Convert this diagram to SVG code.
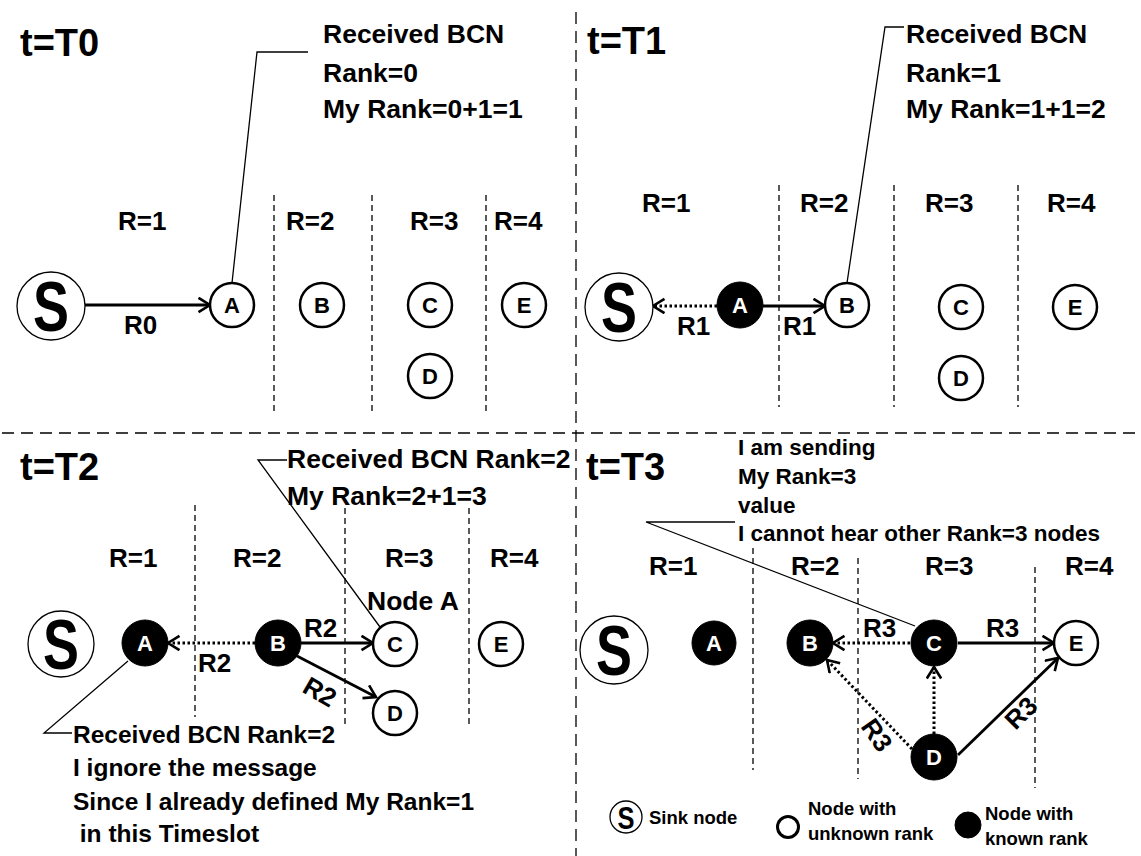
<svg xmlns="http://www.w3.org/2000/svg" width="1141" height="856" viewBox="0 0 1141 856">
<style>
.t{font-family:"Liberation Sans",Arial,sans-serif;font-weight:bold;fill:#000}
.title{font-size:38px}
.call{font-size:26.5px}
.call2{font-size:24.5px}
.call3{font-size:22.5px}
.r{font-size:26px}
.lg{font-size:18.5px}
.nl{font-size:22px;text-anchor:middle}
.wl{fill:#fff}
.bigS{font-size:70px;text-anchor:middle}
.node{fill:#fff;stroke:#000;stroke-width:2.5}
.known{fill:#000;stroke:#000;stroke-width:1}
.sink{fill:#fff;stroke:#000;stroke-width:1.3}
.zone{stroke:#000;stroke-width:1.3;stroke-dasharray:6 4;fill:none}
.sep{stroke:#000;stroke-width:1.3;stroke-dasharray:12 7;fill:none}
.arrow{stroke:#000;stroke-width:2.8;fill:none;marker-end:url(#ah)}
.dot{stroke:#000;stroke-width:3;stroke-dasharray:2.5 2.5;fill:none;marker-end:url(#ah)}
.callout{stroke:#000;stroke-width:1.3;fill:none}
</style>
<defs>
<marker id="ah" markerUnits="userSpaceOnUse" markerWidth="18" markerHeight="18" refX="13" refY="8" orient="auto">
<path d="M1.5,0.8 L13,8 L1.5,15.2" fill="none" stroke="#000" stroke-width="2.6"/>
</marker>
</defs>

<g id="separators">
<line class="sep" x1="576" y1="12" x2="576" y2="856"/>
<line class="sep" x1="2" y1="433" x2="1141" y2="433"/>
</g>

<g id="zones">
<line class="zone" x1="274" y1="195" x2="274" y2="415"/>
<line class="zone" x1="372" y1="195" x2="372" y2="415"/>
<line class="zone" x1="486" y1="195" x2="486" y2="415"/>
<line class="zone" x1="779" y1="185" x2="779" y2="407"/>
<line class="zone" x1="894" y1="185" x2="894" y2="407"/>
<line class="zone" x1="1018" y1="185" x2="1018" y2="407"/>
<line class="zone" x1="195" y1="505" x2="195" y2="717"/>
<line class="zone" x1="345" y1="508" x2="345" y2="725"/>
<line class="zone" x1="469" y1="508" x2="469" y2="725"/>
<line class="zone" x1="753" y1="548" x2="753" y2="770"/>
<line class="zone" x1="858" y1="558" x2="858" y2="779"/>
<line class="zone" x1="1035" y1="567" x2="1035" y2="788"/>
</g>

<g id="labels">
<text class="t title" x="20" y="56">t=T0</text>
<text class="t title" x="587" y="54">t=T1</text>
<text class="t title" x="20" y="480">t=T2</text>
<text class="t title" x="586" y="480">t=T3</text>

<text class="t r" x="118" y="230">R=1</text>
<text class="t r" x="286" y="230">R=2</text>
<text class="t r" x="410" y="230">R=3</text>
<text class="t r" x="494" y="230">R=4</text>

<text class="t r" x="642" y="212">R=1</text>
<text class="t r" x="800" y="212">R=2</text>
<text class="t r" x="925" y="212">R=3</text>
<text class="t r" x="1047" y="212">R=4</text>

<text class="t r" x="109" y="567">R=1</text>
<text class="t r" x="233" y="567">R=2</text>
<text class="t r" x="385" y="567">R=3</text>
<text class="t r" x="490" y="567">R=4</text>

<text class="t r" x="649" y="575">R=1</text>
<text class="t r" x="791" y="575">R=2</text>
<text class="t r" x="925" y="575">R=3</text>
<text class="t r" x="1065" y="575">R=4</text>

<text class="t call" x="323" y="43">Received BCN</text>
<text class="t call" x="323" y="82">Rank=0</text>
<text class="t call" x="323" y="118">My Rank=0+1=1</text>

<text class="t call" x="906" y="43">Received BCN</text>
<text class="t call" x="906" y="82">Rank=1</text>
<text class="t call" x="906" y="118">My Rank=1+1=2</text>

<text class="t call" x="287" y="468">Received BCN Rank=2</text>
<text class="t call" x="287" y="505">My Rank=2+1=3</text>
<text class="t call" x="367" y="610">Node A</text>

<text class="t call2" x="73" y="743">Received BCN Rank=2</text>
<text class="t call2" x="73" y="776">I ignore the message</text>
<text class="t call2" x="73" y="810">Since I already defined My Rank=1</text>
<text class="t call2" x="73" y="842" xml:space="preserve"> in this Timeslot</text>

<text class="t call3" x="738" y="455">I am sending</text>
<text class="t call3" x="738" y="484">My Rank=3</text>
<text class="t call3" x="738" y="513">value</text>
<text class="t call3" x="738" y="541">I cannot hear other Rank=3 nodes</text>

<text class="t r" x="124" y="334">R0</text>
<text class="t r" x="677" y="335">R1</text>
<text class="t r" x="783" y="335">R1</text>
<text class="t r" x="198" y="672">R2</text>
<text class="t r" x="304" y="637">R2</text>
<text class="t r" text-anchor="middle" transform="translate(320,692) rotate(30)" x="0" y="9">R2</text>
<text class="t r" x="863" y="637">R3</text>
<text class="t r" x="986" y="637">R3</text>
<text class="t r" text-anchor="middle" transform="translate(877,735) rotate(55)" x="0" y="9">R3</text>
<text class="t r" text-anchor="middle" transform="translate(1021,713) rotate(-45)" x="0" y="9">R3</text>
</g>

<g id="connectors">
<path class="callout" d="M308,52 H257 L232,283"/>
<path class="callout" d="M904,27 H885 L847,283"/>
<path class="callout" d="M287,460 H258 L380,627"/>
<path class="callout" d="M128,661 L44,733 H72"/>
<path class="callout" d="M735,522 H646 L915,626"/>

<line class="arrow" x1="85" y1="305" x2="210" y2="305"/>
<line class="dot" x1="717" y1="306" x2="653" y2="306"/>
<line class="arrow" x1="763" y1="306" x2="825" y2="306"/>
<line class="dot" x1="255" y1="643" x2="168" y2="643"/>
<line class="arrow" x1="301" y1="643" x2="373" y2="643"/>
<line class="arrow" x1="297" y1="656" x2="376" y2="697"/>
<line class="dot" x1="910" y1="643" x2="833" y2="643"/>
<line class="arrow" x1="958" y1="643" x2="1054" y2="643"/>
<line class="dot" x1="934" y1="734" x2="934" y2="667"/>
<line class="dot" x1="912" y1="749" x2="827" y2="660"/>
<line class="arrow" x1="958" y1="755" x2="1058" y2="658"/>
</g>

<g id="t0-S"><circle class="sink" cx="51" cy="306" r="34"/><text class="t bigS" x="51" y="331" textLength="36" lengthAdjust="spacingAndGlyphs">S</text></g>
<g id="t0-A"><circle class="node" cx="232" cy="305" r="22"/><text class="t nl" x="232" y="313">A</text></g>
<g id="t0-B"><circle class="node" cx="322" cy="305" r="22"/><text class="t nl" x="322" y="313">B</text></g>
<g id="t0-C"><circle class="node" cx="430" cy="305" r="22"/><text class="t nl" x="430" y="313">C</text></g>
<g id="t0-D"><circle class="node" cx="430" cy="376" r="22"/><text class="t nl" x="430" y="384">D</text></g>
<g id="t0-E"><circle class="node" cx="524" cy="305" r="22"/><text class="t nl" x="524" y="313">E</text></g>

<g id="t1-S"><circle class="sink" cx="619" cy="307" r="34"/><text class="t bigS" x="619" y="332" textLength="36" lengthAdjust="spacingAndGlyphs">S</text></g>
<g id="t1-A"><circle class="known" cx="740" cy="305" r="23"/><text class="t nl wl" x="740" y="313">A</text></g>
<g id="t1-B"><circle class="node" cx="847" cy="305" r="22"/><text class="t nl" x="847" y="313">B</text></g>
<g id="t1-C"><circle class="node" cx="961" cy="307" r="22"/><text class="t nl" x="961" y="315">C</text></g>
<g id="t1-D"><circle class="node" cx="961" cy="378" r="22"/><text class="t nl" x="961" y="386">D</text></g>
<g id="t1-E"><circle class="node" cx="1075" cy="307" r="22"/><text class="t nl" x="1075" y="315">E</text></g>

<g id="t2-S"><circle class="sink" cx="61" cy="644" r="33"/><text class="t bigS" x="61" y="669" textLength="36" lengthAdjust="spacingAndGlyphs">S</text></g>
<g id="t2-A"><circle class="known" cx="145" cy="643" r="23"/><text class="t nl wl" x="145" y="651">A</text></g>
<g id="t2-B"><circle class="known" cx="278" cy="643" r="23"/><text class="t nl wl" x="278" y="651">B</text></g>
<g id="t2-C"><circle class="node" cx="395" cy="644" r="22"/><text class="t nl" x="395" y="652">C</text></g>
<g id="t2-D"><circle class="node" cx="395" cy="713" r="22"/><text class="t nl" x="395" y="721">D</text></g>
<g id="t2-E"><circle class="node" cx="501" cy="644" r="22"/><text class="t nl" x="501" y="652">E</text></g>

<g id="t3-S"><circle class="sink" cx="614" cy="650" r="34"/><text class="t bigS" x="614" y="675" textLength="36" lengthAdjust="spacingAndGlyphs">S</text></g>
<g id="t3-A"><circle class="known" cx="714" cy="643" r="22"/><text class="t nl wl" x="714" y="651">A</text></g>
<g id="t3-B"><circle class="known" cx="810" cy="643" r="23"/><text class="t nl wl" x="810" y="651">B</text></g>
<g id="t3-C"><circle class="known" cx="934" cy="643" r="23"/><text class="t nl wl" x="934" y="651">C</text></g>
<g id="t3-D"><circle class="known" cx="934" cy="757" r="23"/><text class="t nl wl" x="934" y="765">D</text></g>
<g id="t3-E"><circle class="node" cx="1076" cy="643" r="22"/><text class="t nl" x="1076" y="651">E</text></g>

<g id="legend-sink"><circle class="sink" cx="626" cy="817" r="16"/><text class="t" x="626" y="829" font-size="32" text-anchor="middle" textLength="17" lengthAdjust="spacingAndGlyphs">S</text><text class="t lg" x="649" y="824">Sink node</text></g>
<g id="legend-unknown"><circle class="node" cx="788" cy="827" r="10.5" style="stroke-width:3"/><text class="t lg" x="808" y="815">Node with</text><text class="t lg" x="808" y="840">unknown rank</text></g>
<g id="legend-known"><circle class="known" cx="968" cy="825" r="13"/><text class="t lg" x="985" y="820">Node with</text><text class="t lg" x="985" y="845">known rank</text></g>
</svg>
